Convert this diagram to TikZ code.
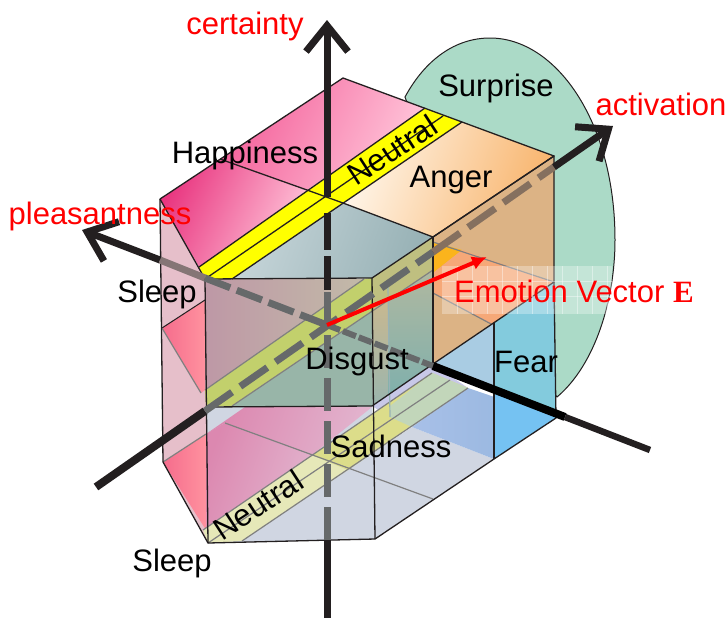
\documentclass[tikz,border=0pt]{standalone}
\usepackage{fontspec}
\setmainfont{Liberation Sans}
\newfontfamily\serifbold[BoldFont={Liberation Serif Bold}]{Liberation Serif}
\usetikzlibrary{arrows.meta}

\definecolor{inkblack}{HTML}{231F20}
\definecolor{surprisegreen}{HTML}{ABDAC7}
\definecolor{sidepink}{HTML}{E6BFCA}
\definecolor{neutralyellow}{HTML}{FFFF00}
\definecolor{sadgrey}{HTML}{D0D6E2}
\definecolor{lowpinka}{HTML}{DC88B0}
\definecolor{lowpinkb}{HTML}{E2B4CE}
\definecolor{rosea}{HTML}{F56C8C}
\definecolor{roseb}{HTML}{FF929F}
\definecolor{paleband}{HTML}{E6E8B8}
\definecolor{midband}{HTML}{DCDD8A}
\definecolor{greenband}{HTML}{C2D6BA}
\definecolor{lavender}{HTML}{C8C8E8}
\definecolor{fearbluea}{HTML}{A8C0E8}
\definecolor{fearblueb}{HTML}{92B4DC}
\definecolor{happya}{HTML}{E93680}
\definecolor{happyb}{HTML}{FFC6DA}
\definecolor{happyc}{HTML}{F4609A}
\definecolor{angera}{HTML}{FFF6EA}
\definecolor{angerb}{HTML}{F8B46C}
\definecolor{teala}{HTML}{C6D5D9}
\definecolor{tealb}{HTML}{98B2B6}
\definecolor{mauvea}{HTML}{BE98A6}
\definecolor{mauveb}{HTML}{C2BAA8}
\definecolor{oliveband}{HTML}{C2D06C}
\definecolor{olivedull}{HTML}{BFBF80}
\definecolor{sagedark}{HTML}{98B5A8}
\definecolor{sandtop}{HTML}{C8B890}
\definecolor{sandlow}{HTML}{9AB5AE}
\definecolor{sagetop}{HTML}{B0B8A0}
\definecolor{sagelow}{HTML}{80B0AC}
\definecolor{tanwall}{HTML}{DCB385}
\definecolor{tiporange}{HTML}{FBB41C}
\definecolor{salmon}{HTML}{F6A878}
\definecolor{fearpale}{HTML}{A9CCE3}
\definecolor{fearcyan}{HTML}{83CBDD}
\definecolor{fearsky}{HTML}{75C2F2}
\definecolor{axisgrey}{HTML}{66696A}
\definecolor{axisbrown}{HTML}{85705F}
\definecolor{axismauve}{HTML}{857575}

\begin{document}
\begin{tikzpicture}[
    x=1pt, y=-1pt,
    emotion/.style={font=\fontsize{31}{36}\selectfont, text=black, inner sep=0pt},
    axisname/.style={emotion, text=red},
    edge/.style={draw=inkblack, line width=1.3pt, line join=round},
    thinedge/.style={draw=gray, line width=1.2pt},
    axisline/.style={draw=inkblack, line width=7pt},
    axistip/.style={axisline, -{Straight Barb[length=26pt, width=42pt]}},
    dashpart/.style={line width=7pt, dash pattern=on 33pt off 10pt},
  ]
  \useasboundingbox (0,0) rectangle (728,619);

  % Corners of the three planes
  \coordinate (tl) at (160,199);   \coordinate (tf) at (205,279);
  \coordinate (tr) at (372,278);   \coordinate (tq) at (433,237);
  \coordinate (te) at (554,156);   \coordinate (ta) at (343,78);
  \coordinate (ml) at (162,328);   \coordinate (mf) at (206,407);
  \coordinate (mr) at (372,406);   \coordinate (mq) at (433,364);
  \coordinate (me) at (554,282);
  \coordinate (bl) at (163,462);   \coordinate (bf) at (208,543);
  \coordinate (br) at (375,539);   \coordinate (bq) at (494,459);
  \coordinate (be) at (556,418);

  % Axis ends
  \coordinate (centre) at (327,325);
  \coordinate (certtop) at (327,20);    \coordinate (certbot) at (327,618);
  \coordinate (acttop) at (613,126);    \coordinate (actbot) at (96,487);
  \coordinate (pleastop) at (82,230);   \coordinate (pleasbot) at (650,450);

  % Surprise lobe
  \path[fill=surprisegreen, draw=inkblack, line width=1pt]
    (405,97) .. controls (425,60) and (455,38) .. (490,38)
    .. controls (555,38) and (615,120) .. (615,240)
    .. controls (615,300) and (595,365) .. (557,397) -- (480,300) -- cycle;

  % Left side wall
  \fill[sidepink] (tl) -- (tf) -- (bf) -- (bl) -- cycle;

  % Bottom plane
  \fill[sadgrey] (206,407) -- (372,406) -- (375,539) -- (208,543) -- cycle;
  \shade[left color=lowpinka, right color=lowpinkb, shading angle=70] (206,434) -- (245,407) -- (372,407) -- (312,455) -- (225,423) -- cycle;
  \shade[left color=lowpinka, right color=lowpinkb, shading angle=70] (206,434) -- (225,423) -- (312,455) -- (206,530) -- cycle;
  \shade[left color=rosea, right color=roseb] (bl) -- (206,434) -- (206,530) -- cycle;
  \fill[sadgrey] (242,541) -- (412,427) -- (bq) -- (br) -- cycle;
  \fill[lavender] (372,406) -- (433,364) -- (468,388) -- (390,417) -- cycle;
  \fill[paleband] (203,530) -- (312,455) -- (348,470) -- (242,541) -- (bf) -- cycle;
  \fill[midband] (312,455) -- (432,373) -- (468,388) -- (348,470) -- cycle;
  \fill[greenband] (390,406) -- (432,373) -- (468,388) -- (412,427) -- (390,417) -- cycle;
  \shade[left color=fearbluea, right color=fearblueb] (468,388) -- (be) -- (bq) -- (412,427) -- cycle;
  \draw[thinedge] (225,423) -- (433,499);
  \draw[thinedge] (203,530) -- (432,373);
  \draw[thinedge] (208,543) -- (450,380);
  \draw[thinedge] (242,541) -- (468,388);
  \draw[thinedge] (bl) -- (206,434);

  % Top plane
  \shade[left color=happya, right color=happyb, shading angle=65] (tl) -- (220,159) -- (307,190) -- (199,267) -- cycle;
  \shade[left color=happyc, right color=happyb, shading angle=65] (220,159) -- (ta) -- (425,108) -- (307,190) -- cycle;
  \fill[neutralyellow] (199,267) -- (425,108) -- (462,122) -- (232,279) -- (tf) -- cycle;
  \shade[left color=angera, right color=angerb, shading angle=70] (462,122) -- (te) -- (tq) -- (343,203) -- cycle;
  \shade[left color=teala, right color=tealb, shading angle=70] (232,279) -- (343,203) -- (tq) -- (tr) -- cycle;

  % Middle plane seen through the front panels
  \shade[left color=rosea, right color=roseb] (ml) -- (205,300) -- (205,390) -- (201,393) -- cycle;
  \shade[left color=mauvea, right color=mauveb] (tf) -- (364,279) -- (205,390) -- cycle;
  \fill[oliveband] (205,390) -- (364,279) -- (372,278) -- (372,311) -- (232,406) -- (mf) -- cycle;
  \fill[sagedark] (232,406) -- (372,311) -- (mr) -- cycle;
  \fill[olivedull] (tr) -- (tq) -- (433,270) -- (372,311) -- cycle;
  \shade[top color=sandtop, bottom color=sandlow] (372,311) -- (388,300) -- (388,395) -- (mr) -- cycle;
  \shade[top color=sagetop, bottom color=sagelow] (388,300) -- (433,270) -- (mq) -- (388,395) -- cycle;

  % Right side: anger wall and fear wall
  \fill[tanwall] (tq) -- (te) -- (me) -- (mq) -- cycle;
  \fill[tiporange] (433,242) -- (462,250) -- (433,273) -- cycle;
  \fill[salmon] (433,273) -- (462,250) -- (me) -- (493,325) -- (433,293) -- cycle;
  \draw[thinedge] (433,242) -- (me);
  \draw[thinedge] (433,293) -- (493,325);
  \fill[fearpale] (mq) -- (494,323) -- (494,390) -- (433,367) -- cycle;
  \fill[fearcyan] (494,323) -- (me) -- (556,413) -- (494,390) -- cycle;
  \fill[fearsky] (494,390) -- (556,413) -- (be) -- (bq) -- cycle;

  % Plane lines
  \draw[edge, line width=1pt] (ml) -- (205,300);
  \draw[thinedge] (ml) -- (201,393);
  \draw[thinedge, draw=tealb] (388,287) -- (390,417);
  \draw[edge] (220,159) -- (307,190);
  \draw[edge] (343,203) -- (tq);
  \draw[edge] (307,190) -- (343,203);
  \draw[edge] (199,267) -- (425,108);
  \draw[edge] (tf) -- (443,116);
  \draw[edge] (232,279) -- (462,122);
  \draw[thinedge] (205,390) -- (364,279);
  \draw[thinedge] (232,406) -- (433,270);

  % Hexagon outlines and upright edges
  \draw[edge] (ta) -- (tl) -- (tf) -- (tr) -- (tq) -- (te) -- cycle;
  \draw[edge] (tq) -- (te) -- (me) -- (mq) -- cycle;
  \draw[edge] (mf) -- (mr) -- (mq);
  \draw[edge] (bl) -- (bf) -- (br) -- (bq) -- (be) -- (me);
  \draw[edge] (tl) -- (bl);
  \draw[edge] (tf) -- (bf);
  \draw[edge] (tr) -- (br);
  \draw[edge] (tq) -- (mq);
  \draw[edge] (494,323) -- (bq);

  % Texture behind the vector label
  \fill[white, opacity=.3] (442,266) rectangle (612,314);
  \foreach \gx in {457,472,...,607}
    \draw[white, opacity=.4, line width=.6pt] (\gx,266) -- (\gx,314);
  \foreach \gy in {281,296}
    \draw[white, opacity=.4, line width=.6pt] (442,\gy) -- (612,\gy);

  % Axes
  \coordinate (certa) at (327,197);  \coordinate (certb) at (327,213);
  \coordinate (certc) at (327,290);  \coordinate (certd) at (327,292);
  \coordinate (certe) at (327,540);
  \draw[axistip] (certa) -- (certtop);
  \draw[inkblack, line width=7pt, dash pattern=on 37pt off 6pt] (certb) -- (certc);
  \draw[draw=axisgrey, dashpart] (certd) -- (certe);
  \draw[axisline] (certe) -- (certbot);

  \coordinate (acta) at (205,411);   \coordinate (actb) at (433,252);
  \coordinate (actc) at (554,167);
  \draw[axisline, line width=8pt] (actbot) -- (acta);
  \draw[draw=axisgrey, dashpart] (acta) -- (actb);
  \draw[draw=axisbrown, dashpart] (actb) -- (actc);
  \draw[axistip] (actc) -- (acttop);

  \coordinate (pleasa) at (160,260);  \coordinate (pleasb) at (205,278);
  \coordinate (pleasc) at (433,366);  \coordinate (pleasd) at (565,417);
  \draw[axistip] (pleasa) -- (pleastop);
  \draw[draw=axismauve, line width=7pt] (pleasa) -- (pleasb);
  \draw[draw=axisgrey, dashpart, dash pattern=on 27pt off 7pt] (pleasb) -- (centre);
  \draw[draw=axisgrey, line width=6pt, dash pattern=on 14pt off 3pt] (centre) -- (pleasc);
  \draw[black, line width=8pt] (pleasc) -- (pleasd);
  \draw[axisline, line width=6.5pt] (pleasd) -- (pleasbot);

  % Emotion vector
  \coordinate (vectip) at (487,257);
  \draw[red, line width=4pt, -{Latex[length=15pt, width=14pt]}] (centre) -- (vectip);

  % Axis names
  \node[axisname] (certname) at (245,26) {certainty};
  \node[axisname] (pleasname) at (100,216) {pleasantness};
  \node[axisname] (actname) at (661,104) {activation};
  \node[axisname, anchor=west] (vecname) at (454,291) {Emotion Vector {\serifbold\bfseries E}};

  % Emotion names
  \node[emotion] (happiness) at (245,155) {Happiness};
  \node[emotion] (surprise) at (496,88) {Surprise};
  \node[emotion] (anger) at (451,180) {Anger};
  \node[emotion, rotate=33] (neutraltop) at (392,150) {Neutral};
  \node[emotion] (sleeptop) at (157,294) {Sleep};
  \node[emotion] (disgust) at (357,361) {Disgust};
  \node[emotion] (fear) at (526,362) {Fear};
  \node[emotion] (sadness) at (391,446) {Sadness};
  \node[emotion, rotate=33] (neutralbot) at (258,505) {Neutral};
  \node[emotion] (sleepbot) at (172,563) {Sleep};
\end{tikzpicture}
\end{document}
